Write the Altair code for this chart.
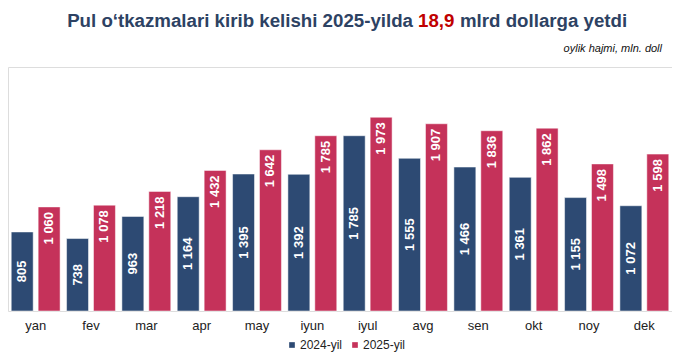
import altair as alt
import pandas as pd

months = ["yan", "fev", "mar", "apr", "may", "iyun", "iyul", "avg", "sen", "okt", "noy", "dek"]
series = ["2024-yil", "2025-yil"]
values_2024 = [805, 738, 963, 1164, 1395, 1392, 1785, 1555, 1466, 1361, 1155, 1072]
values_2025 = [1060, 1078, 1218, 1432, 1642, 1785, 1973, 1907, 1836, 1862, 1498, 1598]

rows = []
for m, a, b in zip(months, values_2024, values_2025):
    rows.append({"month": m, "series": series[0], "value": a})
    rows.append({"month": m, "series": series[1], "value": b})
df = pd.DataFrame(rows)
df["label"] = df["value"].map(lambda v: f"{v:,}".replace(",", " "))

NAVY = "#2d4a73"
RED = "#c5325a"
FONT = "Liberation Sans"
YMAX = 2485
TFS = 18.7

x = alt.X("month:N", sort=months, title=None,
          scale=alt.Scale(paddingInner=0, paddingOuter=0),
          axis=alt.Axis(labelAngle=0, ticks=False, domain=False, labelPadding=8,
                        labelFont=FONT, labelFontSize=13, labelColor="#222222"))
xoff = alt.XOffset("series:N", sort=series,
                   scale=alt.Scale(paddingInner=0.185, paddingOuter=0.12))
y = alt.Y("value:Q", scale=alt.Scale(domain=[0, YMAX], nice=False), axis=None)

base = alt.Chart(df)

bars = base.mark_bar(stroke="white", strokeWidth=0.5).encode(
    x=x, xOffset=xoff, y=y,
    color=alt.Color("series:N", sort=series,
                    scale=alt.Scale(domain=series, range=[NAVY, RED]),
                    legend=alt.Legend(title=None, orient="none", direction="horizontal",
                                      legendX=278, legendY=272, padding=0,
                                      symbolType="square", symbolSize=32, symbolStrokeWidth=0,
                                      labelOffset=2,
                                      labelFont=FONT, labelFontSize=12, labelColor="#222222",
                                      columnPadding=6)),
)

lbl24 = base.transform_filter(alt.datum.series == series[0]).transform_calculate(
    mid="datum.value / 2"
).mark_text(angle=270, color="white", fontWeight="bold", font=FONT, fontSize=13,
            align="center", baseline="middle").encode(
    x=x, xOffset=xoff, y=alt.Y("mid:Q", scale=alt.Scale(domain=[0, YMAX], nice=False), axis=None),
    text="label:N")

lbl25 = base.transform_filter(alt.datum.series == series[1]).mark_text(
    angle=270, color="white", fontWeight="bold", font=FONT, fontSize=13,
    align="right", baseline="middle", dx=-5).encode(
    x=x, xOffset=xoff, y=y, text="label:N")

title_left = alt.Chart(pd.DataFrame({"t": ["Pul o\u2018tkazmalari kirib kelishi 2025-yilda"]})).mark_text(
    align="right", baseline="alphabetic", font=FONT, fontSize=TFS, fontWeight="bold",
    color="#2d4263").encode(x=alt.value(405), y=alt.value(-40), text="t:N")
title_red = alt.Chart(pd.DataFrame({"t": ["18,9"]})).mark_text(
    align="left", baseline="alphabetic", font=FONT, fontSize=TFS, fontWeight="bold",
    color="#c00000").encode(x=alt.value(410), y=alt.value(-40), text="t:N")
title_right = alt.Chart(pd.DataFrame({"t": ["mlrd dollarga yetdi"]})).mark_text(
    align="left", baseline="alphabetic", font=FONT, fontSize=TFS, fontWeight="bold",
    color="#2d4263").encode(x=alt.value(452), y=alt.value(-40), text="t:N")
subtitle = alt.Chart(pd.DataFrame({"t": ["oylik hajmi, mln. doll"]})).mark_text(
    align="right", baseline="alphabetic", font=FONT, fontSize=11, fontStyle="italic",
    color="#111111").encode(x=alt.value(654), y=alt.value(-15), text="t:N")

chart = alt.layer(bars, lbl24, lbl25, title_left, title_red, title_right, subtitle).properties(
    width=664, height=244,
    autosize=alt.AutoSizeParams(type="none"),
    padding={"left": 0, "top": 59, "right": 0, "bottom": 50},
).configure_view(stroke="#dddddd", strokeWidth=1).configure(background="white")

chart.save("out.html", embed_options={"renderer": "svg", "actions": False})
